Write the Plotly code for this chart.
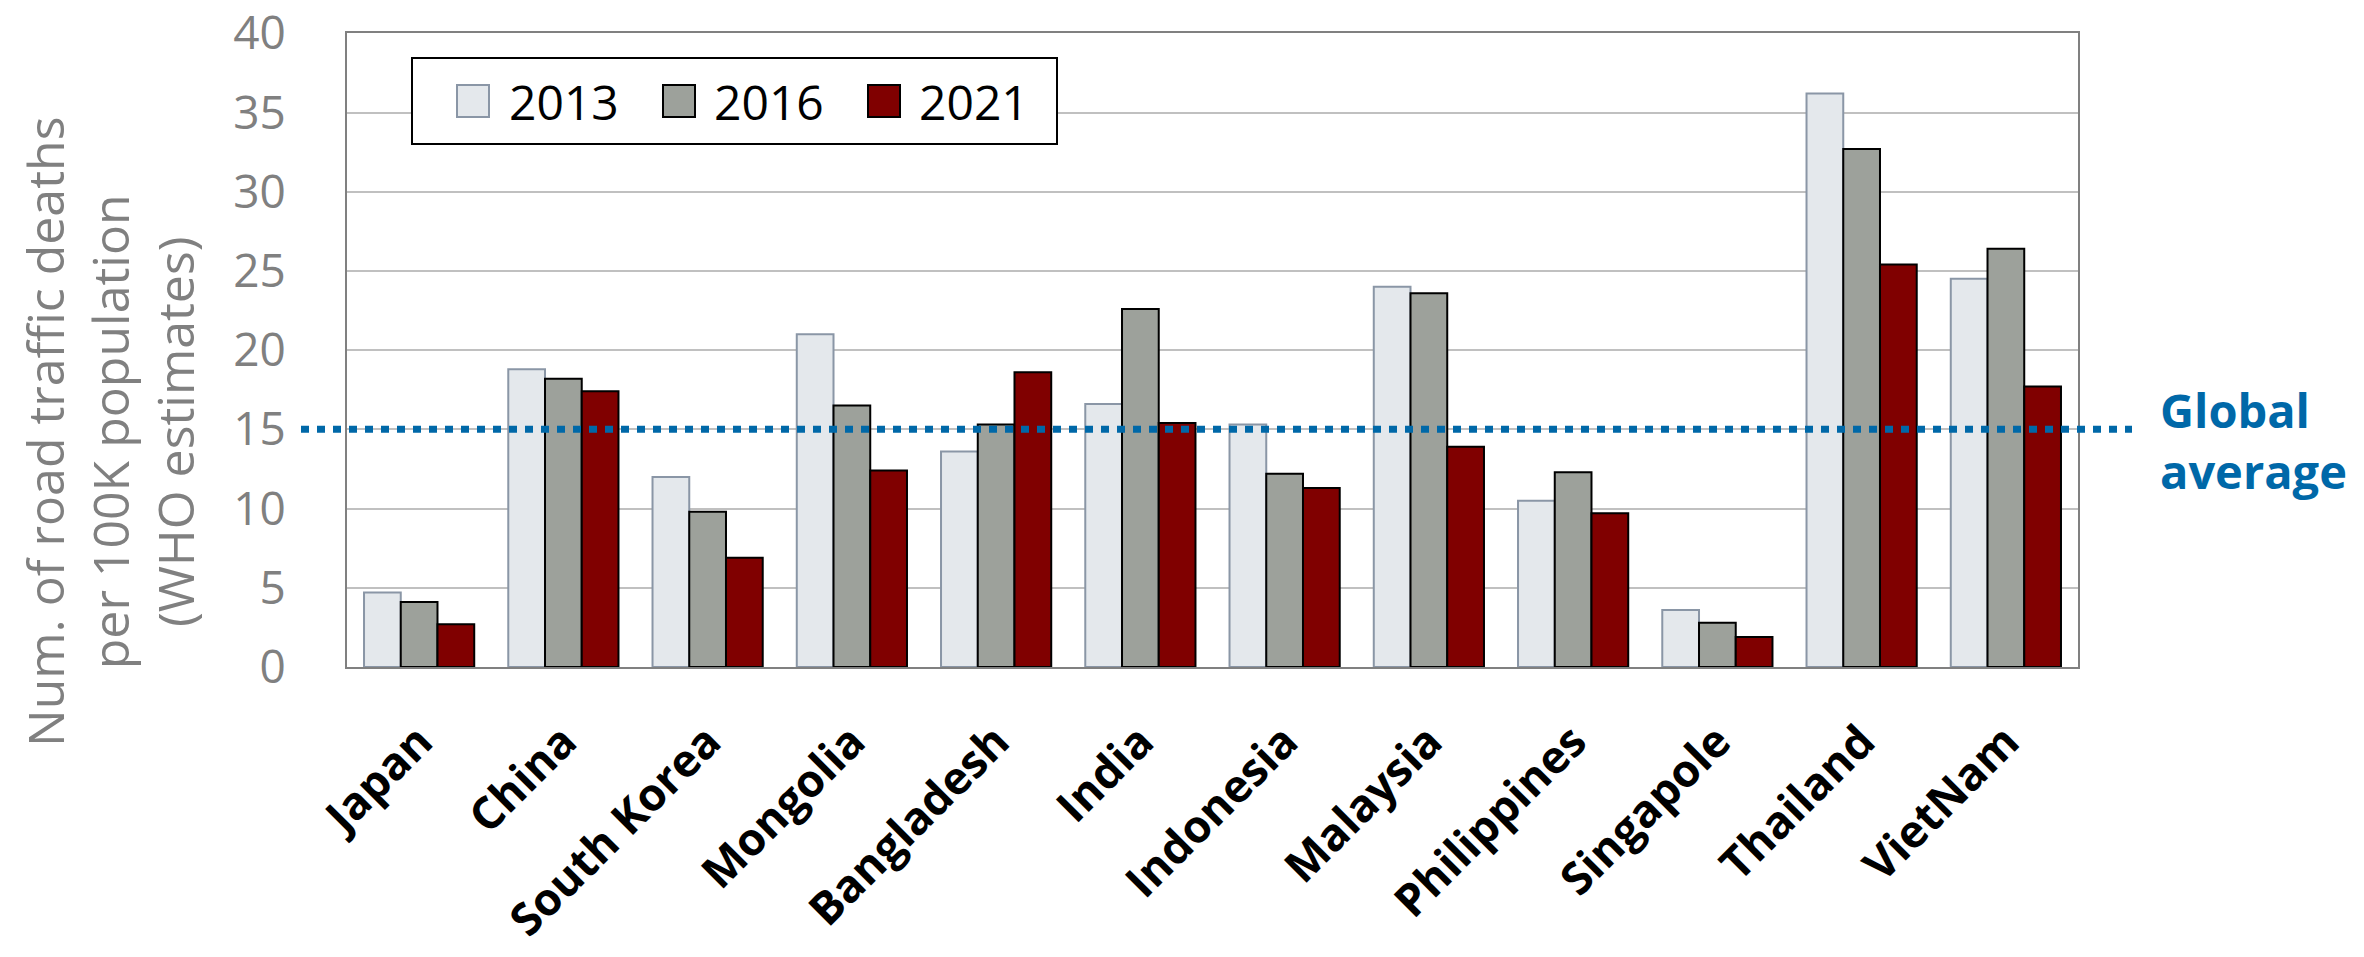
import plotly.graph_objects as go

countries = ["Japan", "China", "South Korea", "Mongolia", "Bangladesh", "India",
             "Indonesia", "Malaysia", "Philippines", "Singapole", "Thailand", "VietNam"]
y2013 = [4.7, 18.8, 12.0, 21.0, 13.6, 16.6, 15.3, 24.0, 10.5, 3.6, 36.2, 24.5]
y2016 = [4.1, 18.2, 9.8, 16.5, 15.3, 22.6, 12.2, 23.6, 12.3, 2.8, 32.7, 26.4]
y2021 = [2.7, 17.4, 6.9, 12.4, 18.6, 15.4, 11.3, 13.9, 9.7, 1.9, 25.4, 17.7]
years = ["2013", "2016", "2021"]
global_avg = 15
y_ticks = [0, 5, 10, 15, 20, 25, 30, 35, 40]

W, H = 2364, 957
L, R, T, B = 347, 2078, 33, 667
PW, PH = R - L, B - T
OFF = 8  # page body margin offset

def px(x):
    return (x - L) / PW

def py(y):
    return (B - y) / PH

FONT = "Open Sans, Noto Sans, sans-serif"
BLUE = "#0068A8"
fills = ["#E4E8EC", "#9DA19B", "#800000"]
edges = ["#8A96A6", "#000000", "#000000"]

fig = go.Figure()
for name, vals, fc, ec in zip(years, [y2013, y2016, y2021], fills, edges):
    fig.add_trace(go.Bar(x=countries, y=vals, name=name,
                         marker=dict(color=fc, line=dict(color=ec, width=2)),
                         showlegend=False))

shapes = []
annotations = []

# global average dotted line
shapes.append(dict(type="line", xref="paper", yref="y", x0=px(301), x1=px(2132),
                   y0=global_avg, y1=global_avg,
                   line=dict(color=BLUE, width=7, dash="8px,8px"), layer="above"))
annotations.append(dict(xref="paper", yref="paper", x=px(2158), y=py(440),
                        xanchor="left", yanchor="middle", align="left", showarrow=False,
                        text="<b>Global<br>average</b>",
                        font=dict(family=FONT, size=47, color=BLUE)))

# y-axis title
annotations.append(dict(xref="paper", yref="paper", x=px(110), y=py(432),
                        xanchor="center", yanchor="middle", showarrow=False, textangle=-90,
                        text="Num. of road traffic deaths<br>per 100K population<br>(WHO estimates)",
                        font=dict(family=FONT, size=50, color="#808080")))

# manual legend
shapes.append(dict(type="rect", xref="paper", yref="paper", x0=px(412), x1=px(1057),
                   y0=py(144), y1=py(58), fillcolor="white",
                   line=dict(color="black", width=2), layer="above"))
sym_x = [457, 663, 868]
txt_x = [507, 712, 917]
for i, name in enumerate(years):
    shapes.append(dict(type="rect", xref="paper", yref="paper",
                       x0=px(sym_x[i]), x1=px(sym_x[i] + 32), y0=py(117), y1=py(85),
                       fillcolor=fills[i], line=dict(color=edges[i], width=2), layer="above"))
    annotations.append(dict(xref="paper", yref="paper", x=px(txt_x[i]), y=py(101),
                            xanchor="left", yanchor="middle", showarrow=False, text=name,
                            font=dict(family=FONT, size=48, color="black")))

fig.update_layout(
    width=W, height=H,
    margin=dict(l=L - OFF, r=W - R + OFF, t=T - OFF, b=H - B + OFF, autoexpand=False),
    paper_bgcolor="white", plot_bgcolor="white",
    barmode="group", bargap=0.236, bargroupgap=0,
    font=dict(family=FONT),
    shapes=shapes, annotations=annotations,
    xaxis=dict(showline=True, linecolor="#808080", linewidth=2, mirror=True,
               tickangle=-45, ticks="", ticklabelstandoff=28, automargin=False,
               tickfont=dict(family=FONT, size=45, color="black", weight="bold")),
    yaxis=dict(range=[0, 40.02], tickvals=y_ticks, showline=True, linecolor="#808080",
               linewidth=2, mirror=True, showgrid=True, gridcolor="#C0C0C0", gridwidth=2,
               ticks="", ticklabelstandoff=50, zeroline=False, ticklabeloverflow="allow",
               automargin=False,
               tickfont=dict(family=FONT, size=46, color="#808080")),
)

fig.write_html("out.html")
